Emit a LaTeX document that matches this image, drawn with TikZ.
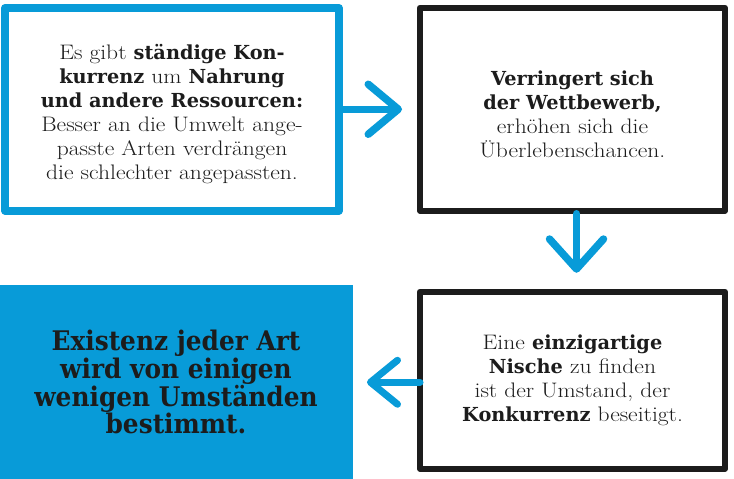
\documentclass[tikz,border=0pt]{standalone}
\usepackage{fontspec}
\usetikzlibrary{positioning}
\usetikzlibrary{arrows.meta}

\setmainfont{Latin Modern Roman}[FakeStretch=1.12]
\newfontfamily\slab{DejaVu Serif}[Scale=0.92]
\newfontfamily\slabbig{DejaVu Serif}[FakeStretch=0.92]
\newcommand{\hi}[1]{{\slab\bfseries #1}}
\newcommand{\topstrut}{\rule{0pt}{25pt}}
\definecolor{skyblue}{RGB}{8,155,216}
\definecolor{inkblack}{RGB}{28,28,28}

\begin{document}
\begin{tikzpicture}[x=1pt,y=-1pt,line cap=round,line join=round,
	box/.style={rectangle,inner sep=0pt,outer sep=0pt,align=center,text=inkblack,font=\fontsize{21}{24}\selectfont},
	blue box/.style={box,draw=skyblue,line width=7.5pt,minimum width=334pt,minimum height=203pt},
	black box/.style={box,draw=inkblack,line width=6pt,minimum width=305pt},
	filled box/.style={box,fill=skyblue,minimum width=354pt,minimum height=194pt,font=\slabbig\bfseries\fontsize{27}{26}\selectfont},
	flow/.style={draw=skyblue,line width=7.5pt}]

	\useasboundingbox (0,0) rectangle (734,479);

	%the four boxes, clockwise from the top left
	\node[blue box] (compete) at (172,109.25) {\topstrut Es gibt \hi{ständige Kon-}\\
		\hi{kurrenz} um \hi{Nahrung}\\
		\hi{und andere Ressourcen:}\\
		Besser an die Umwelt ange-\\
		passte Arten verdrängen\\
		die schlechter angepassten.};
	\node[black box, minimum height=203pt] (chance) [right=81pt of compete] {\topstrut\hi{Verringert sich}\\
		\hi{der Wettbewerb,}\\
		erhöhen sich die\\
		Überlebenschancen.};
	\node[black box, minimum height=177pt] (niche) [below=81pt of chance] {Eine \hi{einzigartige}\\
		\hi{Nische} zu finden\\
		ist der Umstand, der\\
		\hi{Konkurrenz} beseitigt.};
	\node[filled box] (exist) [left=67pt of niche, yshift=-2pt] {Existenz jeder Art\\
		wird von einigen\\
		wenigen Umständen\\
		bestimmt.};

	%hand drawn arrows between the boxes
	\draw[flow, -{Straight Barb[round,length=30pt,width=50pt]}, shorten <=4pt, shorten >=18pt]
		(compete) -- (chance);
	\draw[flow, -{Straight Barb[round,length=30pt,width=54pt]}, shorten <=3pt, shorten >=19pt]
		([xshift=4pt]chance.south) -- ([xshift=4pt]niche.north);
	\draw[flow, line width=7pt, -{Straight Barb[round,length=27pt,width=44pt]}, shorten <=0pt, shorten >=14pt]
		([yshift=-2pt]niche.west) -- ([yshift=-2pt]niche.west -| exist.east);
\end{tikzpicture}
\end{document}
